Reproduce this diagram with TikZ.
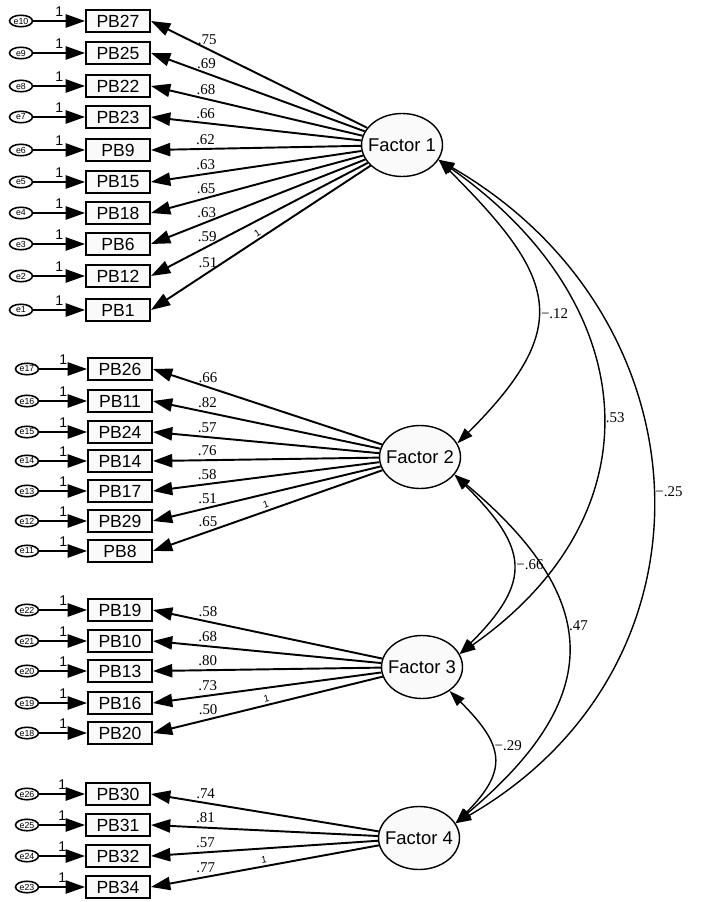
\documentclass[tikz,border=0pt]{standalone}
\usepackage{fontspec}
\setmainfont{Liberation Sans}
\newfontfamily\coeffont{Liberation Serif}
\usepackage{tikz}
\usetikzlibrary{shapes.geometric}
\usetikzlibrary{arrows.meta}

\tikzset{
  item/.style={draw, line width=1.1pt, fill=gray!4, minimum width=1.28cm, minimum height=0.44cm, inner sep=0pt, font=\fontsize{10}{10}\selectfont},
  err/.style={ellipse, draw, line width=0.9pt, fill=white, minimum width=0.46cm, minimum height=0.23cm, inner sep=0pt, font=\fontsize{5}{5}\selectfont},
  factor/.style={ellipse, draw, line width=0.8pt, fill=gray!4, minimum width=1.62cm, minimum height=1.26cm, inner xsep=-6pt, inner ysep=0pt, font=\fontsize{10.5}{10.5}\selectfont},
  errarr/.style={-{Triangle[length=11pt,width=7.5pt]}, line width=1.1pt},
  loadarr/.style={-{Triangle[length=11pt,width=7.5pt]}, line width=1.1pt},
  covarr/.style={{Triangle[length=9pt,width=6pt]}-{Triangle[length=9pt,width=6pt]}, line width=0.8pt},
  coef/.style={font=\coeffont\fontsize{8.5}{8.5}\selectfont, inner sep=2pt},
  one/.style={font=\fontsize{8}{8}\selectfont, inner sep=2pt, above},
  fix/.style={font=\fontsize{5.5}{5.5}\selectfont, sloped, above, inner sep=1pt}
}

\begin{document}
\begin{tikzpicture}[x=0.02cm, y=0.02cm]
    \useasboundingbox (0,0) rectangle (700,-902);

    %factors
    \node[factor] (f1) at (402,-145) {Factor 1};
    \node[factor] (f2) at (420,-457) {Factor 2};
    \node[factor] (f3) at (422,-667) {Factor 3};
    \node[factor] (f4) at (419,-838) {Factor 4};

    %factor 1 indicators
    \node[err] (e10) at (21,-21) {e10};  \node[item] (pb27) at (118,-21) {PB27};
    \node[err] (e9) at (21,-53) {e9};    \node[item] (pb25) at (118,-53) {PB25};
    \node[err] (e8) at (21,-86) {e8};    \node[item] (pb22) at (118,-86) {PB22};
    \node[err] (e7) at (21,-117) {e7};   \node[item] (pb23) at (118,-117) {PB23};
    \node[err] (e6) at (21,-150) {e6};   \node[item] (pb9) at (118,-150) {PB9};
    \node[err] (e5) at (21,-182) {e5};   \node[item] (pb15) at (118,-182) {PB15};
    \node[err] (e4) at (21,-213) {e4};   \node[item] (pb18) at (118,-213) {PB18};
    \node[err] (e3) at (21,-244) {e3};   \node[item] (pb6) at (118,-244) {PB6};
    \node[err] (e2) at (21,-276) {e2};   \node[item] (pb12) at (118,-276) {PB12};
    \node[err] (e1) at (21,-310) {e1};   \node[item] (pb1) at (118,-310) {PB1};

    %factor 2 indicators
    \node[err] (e17) at (27,-369) {e17}; \node[item] (pb26) at (120,-369) {PB26};
    \node[err] (e16) at (27,-401) {e16}; \node[item] (pb11) at (120,-401) {PB11};
    \node[err] (e15) at (27,-432) {e15}; \node[item] (pb24) at (120,-432) {PB24};
    \node[err] (e14) at (27,-461) {e14}; \node[item] (pb14) at (120,-461) {PB14};
    \node[err] (e13) at (27,-491) {e13}; \node[item] (pb17) at (120,-491) {PB17};
    \node[err] (e12) at (27,-521) {e12}; \node[item] (pb29) at (120,-521) {PB29};
    \node[err] (e11) at (27,-551) {e11}; \node[item] (pb8) at (120,-551) {PB8};

    %factor 3 indicators
    \node[err] (e22) at (27,-610) {e22}; \node[item] (pb19) at (120,-610) {PB19};
    \node[err] (e21) at (27,-641) {e21}; \node[item] (pb10) at (120,-641) {PB10};
    \node[err] (e20) at (27,-671) {e20}; \node[item] (pb13) at (120,-671) {PB13};
    \node[err] (e19) at (27,-703) {e19}; \node[item] (pb16) at (120,-703) {PB16};
    \node[err] (e18) at (27,-733) {e18}; \node[item] (pb20) at (120,-733) {PB20};

    %factor 4 indicators
    \node[err] (e26) at (27,-794) {e26}; \node[item] (pb30) at (118,-794) {PB30};
    \node[err] (e25) at (27,-825) {e25}; \node[item] (pb31) at (118,-825) {PB31};
    \node[err] (e24) at (27,-856) {e24}; \node[item] (pb32) at (118,-856) {PB32};
    \node[err] (e23) at (27,-887) {e23}; \node[item] (pb34) at (118,-887) {PB34};

    %error paths
    \draw[errarr] (e10) -- node[one] {1} (pb27);
    \draw[errarr] (e9) -- node[one] {1} (pb25);
    \draw[errarr] (e8) -- node[one] {1} (pb22);
    \draw[errarr] (e7) -- node[one] {1} (pb23);
    \draw[errarr] (e6) -- node[one] {1} (pb9);
    \draw[errarr] (e5) -- node[one] {1} (pb15);
    \draw[errarr] (e4) -- node[one] {1} (pb18);
    \draw[errarr] (e3) -- node[one] {1} (pb6);
    \draw[errarr] (e2) -- node[one] {1} (pb12);
    \draw[errarr] (e1) -- node[one] {1} (pb1);
    \draw[errarr] (e17) -- node[one] {1} (pb26);
    \draw[errarr] (e16) -- node[one] {1} (pb11);
    \draw[errarr] (e15) -- node[one] {1} (pb24);
    \draw[errarr] (e14) -- node[one] {1} (pb14);
    \draw[errarr] (e13) -- node[one] {1} (pb17);
    \draw[errarr] (e12) -- node[one] {1} (pb29);
    \draw[errarr] (e11) -- node[one] {1} (pb8);
    \draw[errarr] (e22) -- node[one] {1} (pb19);
    \draw[errarr] (e21) -- node[one] {1} (pb10);
    \draw[errarr] (e20) -- node[one] {1} (pb13);
    \draw[errarr] (e19) -- node[one] {1} (pb16);
    \draw[errarr] (e18) -- node[one] {1} (pb20);
    \draw[errarr] (e26) -- node[one] {1} (pb30);
    \draw[errarr] (e25) -- node[one] {1} (pb31);
    \draw[errarr] (e24) -- node[one] {1} (pb32);
    \draw[errarr] (e23) -- node[one] {1} (pb34);

    %loadings
    \draw[loadarr] (f1) -- node[coef, pos=0.74, above] {.75} (pb27.east);
    \draw[loadarr] (f1) -- node[coef, pos=0.74, above] {.69} (pb25.east);
    \draw[loadarr] (f1) -- node[coef, pos=0.74, above] {.68} (pb22.east);
    \draw[loadarr] (f1) -- node[coef, pos=0.74, above] {.66} (pb23.east);
    \draw[loadarr] (f1) -- node[coef, pos=0.74, above] {.62} (pb9.east);
    \draw[loadarr] (f1) -- node[coef, pos=0.74, above] {.63} (pb15.east);
    \draw[loadarr] (f1) -- node[coef, pos=0.74, above] {.65} (pb18.east);
    \draw[loadarr] (f1) -- node[coef, pos=0.74, above] {.63} (pb6.east);
    \draw[loadarr] (f1) -- node[coef, pos=0.74, above] {.59} (pb12.east);
    \draw[loadarr] (f1) -- node[coef, pos=0.74, above] {.51} node[fix, pos=0.5] {1} (pb1.east);

    \draw[loadarr] (f2) -- node[coef, pos=0.76, above] {.66} (pb26.east);
    \draw[loadarr] (f2) -- node[coef, pos=0.76, above] {.82} (pb11.east);
    \draw[loadarr] (f2) -- node[coef, pos=0.76, above] {.57} (pb24.east);
    \draw[loadarr] (f2) -- node[coef, pos=0.76, above] {.76} (pb14.east);
    \draw[loadarr] (f2) -- node[coef, pos=0.76, above] {.58} (pb17.east);
    \draw[loadarr] (f2) -- node[coef, pos=0.76, above] {.51} (pb29.east);
    \draw[loadarr] (f2) -- node[coef, pos=0.76, above] {.65} node[fix, pos=0.5] {1} (pb8.east);

    \draw[loadarr] (f3) -- node[coef, pos=0.76, above] {.58} (pb19.east);
    \draw[loadarr] (f3) -- node[coef, pos=0.76, above] {.68} (pb10.east);
    \draw[loadarr] (f3) -- node[coef, pos=0.76, above] {.80} (pb13.east);
    \draw[loadarr] (f3) -- node[coef, pos=0.76, above] {.73} (pb16.east);
    \draw[loadarr] (f3) -- node[coef, pos=0.76, above] {.50} node[fix, pos=0.5] {1} (pb20.east);

    \draw[loadarr] (f4) -- node[coef, pos=0.76, above] {.74} (pb30.east);
    \draw[loadarr] (f4) -- node[coef, pos=0.76, above] {.81} (pb31.east);
    \draw[loadarr] (f4) -- node[coef, pos=0.76, above] {.57} (pb32.east);
    \draw[loadarr] (f4) -- node[coef, pos=0.76, above] {.77} node[fix, pos=0.5] {1} (pb34.east);

    %covariances
    \draw[covarr] (f1.-22) to[out=-45, in=45, looseness=1.5] node[coef, pos=0.55, right] {−.12} (f2.20);
    \draw[covarr] (f1.-22) to[out=-35, in=35, looseness=1.28] node[coef, pos=0.52, right] {.53} (f3.19);
    \draw[covarr] (f1.-22) to[out=-30, in=30, looseness=1.21] node[coef, pos=0.5, right] {−.25} (f4.22);
    \draw[covarr] (f2.-27) to[out=-45, in=45, looseness=1.48] node[coef, pos=0.5, right] {−.66} (f3.19);
    \draw[covarr] (f2.-27) to[out=-40, in=40, looseness=1.43] node[coef, pos=0.43, right] {.47} (f4.22);
    \draw[covarr] (f3.-41) to[out=-45, in=45, looseness=1.47] node[coef, pos=0.4, right] {−.29} (f4.22);
\end{tikzpicture}
\end{document}
